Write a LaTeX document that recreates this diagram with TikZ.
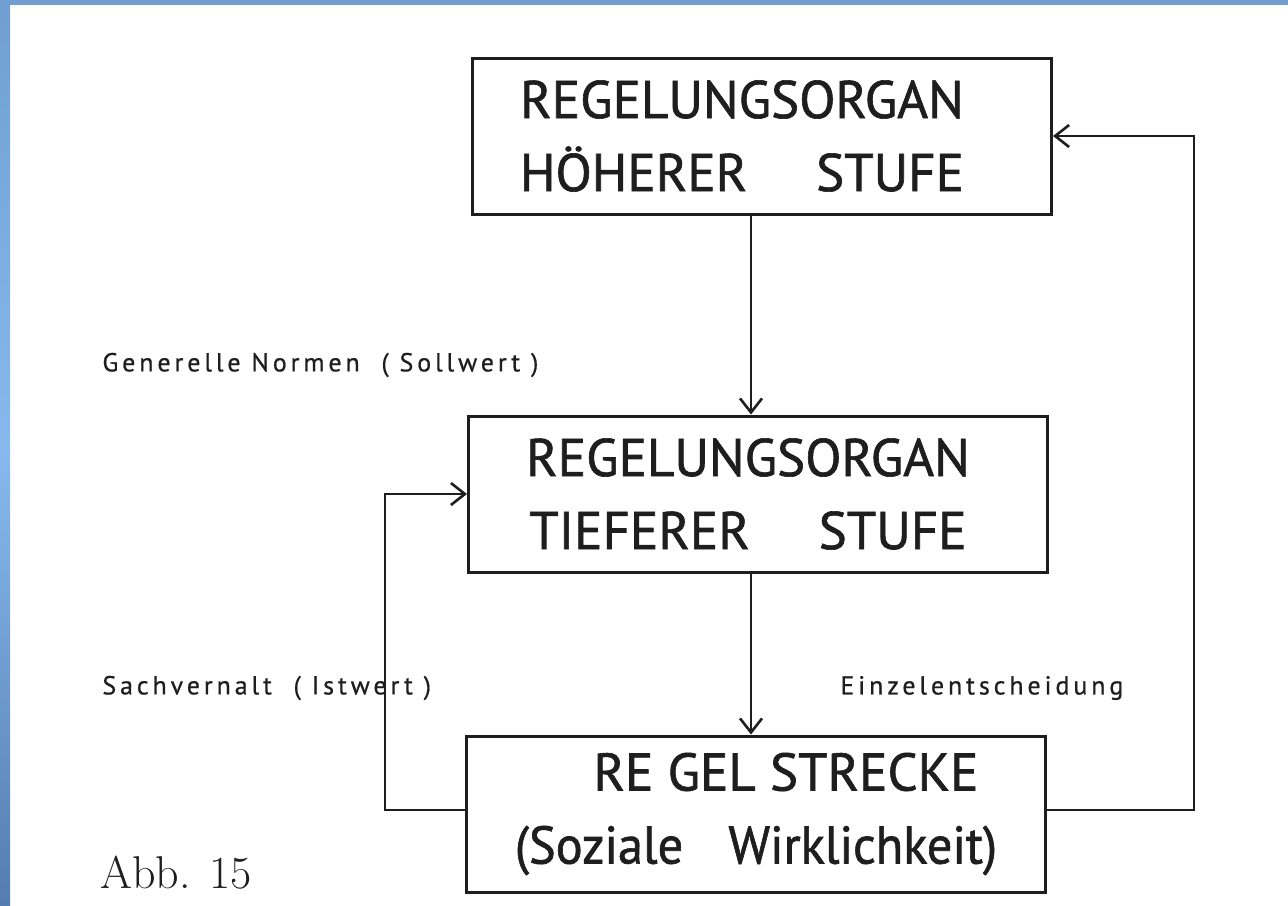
\documentclass[tikz,border=0pt]{standalone}
\usepackage{fontspec}
\usetikzlibrary{arrows.meta}
\newfontfamily\boxfont[FakeBold=1.2]{PT Sans}
\newfontfamily\notefont[LetterSpace=15,FakeBold=0.6]{PT Sans}
\definecolor{frametop}{RGB}{112,158,208}
\definecolor{framemid}{RGB}{135,185,238}
\definecolor{framebot}{RGB}{85,125,175}
\definecolor{ink}{RGB}{30,30,30}

\begin{document}
\begin{tikzpicture}[x=0.5pt,y=-0.5pt,
  organ/.style={draw=ink,line width=1.5pt,minimum width=289.5pt,minimum height=78pt,
    align=center,inner sep=0pt,text=ink,font=\boxfont\fontsize{26.5}{36.5}\selectfont},
  flow/.style={draw=ink,line width=1.3pt,-{Straight Barb[length=7pt,width=11pt]}},
  note/.style={anchor=west,inner sep=0pt,text=ink,font=\notefont\fontsize{13}{15}\selectfont}]
  \useasboundingbox (0,0) rectangle (1288,905);
  % blue frame of the screenshot
  \fill[white] (0,0) rectangle (1288,905);
  \shade[top color=frametop,bottom color=framebot,middle color=framemid] (0,0) rectangle (10,905);
  \fill[frametop] (0,0) rectangle (1288,5);

  \node[organ] (hoch) at (762,136) {\hspace*{-20pt}REGELUNGSORGAN\\\hspace*{-20pt}HÖHERER\hspace{1.3em}STUFE};
  \node[organ] (tief) at (758,494) {\hspace*{-10pt}REGELUNGSORGAN\\\hspace*{-10pt}TIEFERER\hspace{1.3em}STUFE};
  \node[organ] (strecke) at (756,814) {\hspace*{30pt}RE GEL STRECKE\\\scalebox{0.95}[1]{(Soziale\hspace{0.9em}Wirklichkeit)}};

  \draw[flow] ([xshift=-5.5pt]hoch.south) -- ([xshift=-5.5pt]hoch.south |- tief.north);
  \draw[flow] ([xshift=-3.5pt]tief.south) -- ([xshift=-3.5pt]tief.south |- strecke.north);
  \draw[flow] ([yshift=2pt]strecke.west) -- ++(-80,0) |- (tief.west);
  \draw[flow] ([yshift=2pt]strecke.east) -- ++(147,0) |- (hoch.east);

  \node[note] (soll) at (102,365) {Generelle Normen\ \ ( Sollwert )};
  \node[note] (ist) at (102,688) {Sachvernalt\ \ ( Istwert )};
  \node[note] (einzel) at (840,688) {Einzelentscheidung};
  \node[anchor=west,inner sep=0pt,text=ink,font=\fontsize{23}{26}\selectfont] (abb) at (100,873) {Abb. 15};
\end{tikzpicture}
\end{document}
